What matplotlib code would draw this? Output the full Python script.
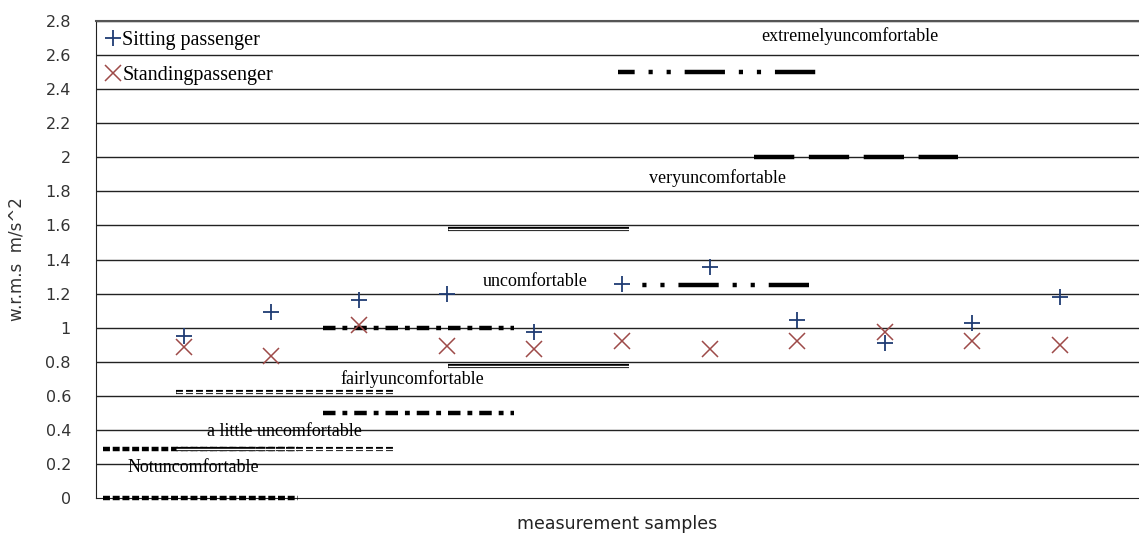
import matplotlib
matplotlib.use("Agg")
import matplotlib.pyplot as plt
import numpy as np

plt.rcParams['lines.scale_dashes'] = False

# measured values (w.r.m.s, m/s^2), 11 samples
sitting = [0.95, 1.09, 1.16, 1.20, 0.976, 1.256, 1.355, 1.045, 0.91, 1.027, 1.18]
standing = [0.886, 0.835, 1.015, 0.89, 0.874, 0.923, 0.874, 0.923, 0.976, 0.923, 0.898]
samples = np.arange(1, len(sitting) + 1)

# comfort bands (ISO 2631 style) - lower and upper limit of each band
band_names = ["Notuncomfortable", "a little uncomfortable", "fairlyuncomfortable",
              "uncomfortable", "veryuncomfortable", "extremelyuncomfortable"]
band_low = [0.0, 0.29, 0.5, 0.775, 1.25, 2.0]
band_high = [0.29, 0.62, 1.0, 1.58, 2.5, None]

yticks = [0, 0.2, 0.4, 0.6, 0.8, 1, 1.2, 1.4, 1.6, 1.8, 2, 2.2, 2.4, 2.6, 2.8]
ytick_labels = ["0", "0.2", "0.4", "0.6", "0.8", "1", "1.2", "1.4", "1.6", "1.8",
                "2", "2.2", "2.4", "2.6", "2.8"]

# where each band is drawn along x and where its label sits (layout only)
band_x = [(0.08, 2.30), (0.91, 3.42), (2.59, 4.77), (4.02, 6.08), (6.14, 8.18), (7.51, 9.84)]
band_x_top = [None, None, None, None, (5.95, 8.21), None]
label_pos = [(0.36, 0.18), (1.27, 0.39), (2.79, 0.70), (4.41, 1.27), (6.31, 1.88), (7.59, 2.71)]

serif = "Liberation Serif"

fig = plt.figure(figsize=(11.39, 5.36), dpi=100)
ax = fig.add_axes([96 / 1139, 38 / 536, 1043 / 1139, 477 / 536])
ax.set_xlim(0, 11.9)
ax.set_ylim(0, 2.8)

for y in yticks[1:]:
    ax.axhline(y, color="#222222", lw=1.0, zorder=1)


def line(x0, x1, y, kind, offset=0):
    kw = dict(color="black", zorder=3, clip_on=False, solid_capstyle="butt",
              dash_capstyle="butt")
    if kind == "dot":
        ax.plot([x0, x1], [y, y], lw=3.2, dashes=(5, 2), **kw)
    elif kind == "ddash":
        ax.plot([x0, x1], [y, y], lw=3.0, dashes=(5, 2.2), **kw)
        ax.plot([x0, x1], [y, y], lw=1.0, color="white", zorder=3.5, solid_capstyle="butt")
    elif kind == "dashdot":
        ax.plot([x0, x1], [y, y], lw=3.2, dashes=(9, 5, 3.5, 5), **kw)
    elif kind == "double":
        ax.plot([x0, x1], [y, y], lw=3.0, **kw)
        ax.plot([x0, x1], [y, y], lw=1.0, color="white", zorder=3.5, solid_capstyle="butt")
    elif kind == "dashdotdot":
        ax.plot([x0, x1], [y, y], lw=3.2, linestyle=(offset, (29, 10, 3, 10, 3, 10)), **kw)
    elif kind == "dash":
        ax.plot([x0, x1], [y, y], lw=3.2, dashes=(29, 10.5), **kw)


styles = ["dot", "ddash", "dashdot", "double", "dashdotdot", "dash"]
offsets_low = [0, 0, 0, 0, 33, 0]
offsets_high = [0, 0, 0, 0, 17, 0]
for i in range(len(band_names)):
    x0, x1 = band_x[i]
    line(x0, x1, band_low[i], styles[i], offsets_low[i])
    if band_high[i] is not None:
        xs = band_x_top[i] if band_x_top[i] else band_x[i]
        line(xs[0], xs[1], band_high[i], styles[i], offsets_high[i])
    lx, ly = label_pos[i]
    ax.text(lx, ly, band_names[i], family=serif, fontsize=13, va="center",
            ha="left", zorder=4)

ax.plot(samples, sitting, ls="none", marker="+", ms=11.5, mew=1.3,
        color="#1F3B73", label="Sitting passenger", zorder=5)
ax.plot(samples, standing, ls="none", marker="x", ms=11, mew=1.1,
        color="#9E4A48", label="Standingpassenger", zorder=5)

ax.legend(loc="upper left", frameon=False, prop={"family": serif, "size": 14.5},
          handlelength=0.7, handletextpad=0.1, labelspacing=0.8,
          borderaxespad=0.3, borderpad=0.2)

ax.set_xticks([])
ax.set_yticks(yticks)
ax.set_yticklabels(ytick_labels)
ax.tick_params(axis="y", length=0, pad=18, labelsize=11.5, labelcolor="#333333")
ax.spines["right"].set_visible(False)
ax.spines["bottom"].set_color("#222222")
ax.spines["left"].set_color("#222222")
ax.spines["top"].set_color("#555555")
ax.spines["top"].set_linewidth(1.5)

ax.set_ylabel("w.r.m.s  m/s^2", fontsize=12, color="#333333", labelpad=14)
ax.set_xlabel("measurement samples", fontsize=12.5, color="#222222", labelpad=12)

fig.savefig("out.png", dpi=100)
